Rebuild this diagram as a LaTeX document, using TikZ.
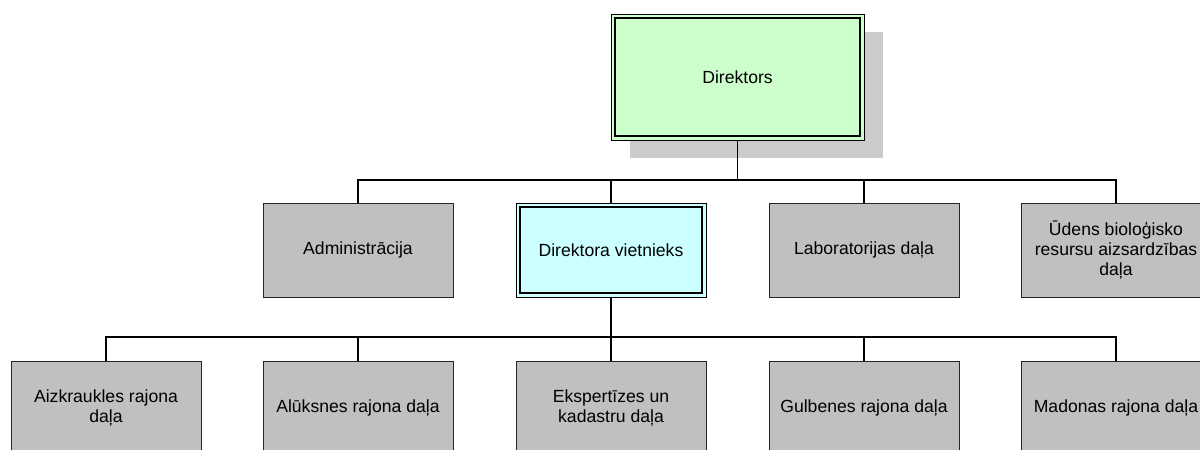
\documentclass[tikz,border=0pt]{standalone}
\usepackage{fontspec}
\setmainfont{Liberation Sans}
\usetikzlibrary{backgrounds}
\definecolor{dirgreen}{HTML}{CCFFCC}
\definecolor{depcyan}{HTML}{CCFFFF}
\definecolor{boxgray}{HTML}{C0C0C0}
\definecolor{shadowgray}{HTML}{CCCCCC}
\begin{document}
\begin{tikzpicture}[x=1pt,y=-1pt,
  every node/.style={font=\fontsize{17.6}{20.3}\selectfont, align=center, inner sep=0pt, outer sep=0pt},
  unitbox/.style={draw=black!85, line width=1pt, fill=boxgray, minimum width=190pt, minimum height=94pt},
  headbox/.style={draw=black, line width=1pt, fill=dirgreen, minimum width=253pt, minimum height=126pt},
  innerline/.style={draw=black, line width=1.4pt},
  link/.style={draw=black, line width=1.1pt},
  trunk/.style={draw=black, line width=1.4pt}]
\useasboundingbox (0,0) rectangle (1200,450);
\clip (0,0) rectangle (1200,450);
% head
\node[headbox] (dir) at (737.5,77) {Direktors};
\draw[innerline] ([shift={(4,4)}]dir.north west) rectangle ([shift={(-4,-4)}]dir.south east);
\begin{scope}[on background layer]
  \fill[shadowgray] ([shift={(19,18)}]dir.north west) rectangle ([shift={(19,18)}]dir.south east);
\end{scope}
% middle row
\node[unitbox] (adm) at (358,250) {Administrācija};
\node[unitbox, fill=depcyan, draw=black] (dep) at (611,250) {Direktora vietnieks};
\draw[innerline] ([shift={(4,4)}]dep.north west) rectangle ([shift={(-4,-4)}]dep.south east);
\node[unitbox] (lab) at (864,250) {Laboratorijas daļa};
\node[unitbox] (ude) at (1116,250) {Ūdens bioloģisko\\resursu aizsardzības\\daļa};
% bottom row
\node[unitbox] (aiz) at (106,408) {Aizkraukles rajona\\daļa};
\node[unitbox] (alu) at (358,408) {Alūksnes rajona daļa};
\node[unitbox] (eks) at (611,408) {Ekspertīzes un\\kadastru daļa};
\node[unitbox] (gul) at (864,408) {Gulbenes rajona daļa};
\node[unitbox] (mad) at (1116,408) {Madonas rajona daļa};
% connectors
\draw[trunk] (dir.south) -- ++(0,40) coordinate (busA);
\foreach \c in {adm,dep,lab,ude} \draw[link] (busA) -| (\c.north);
\draw[trunk] (dep.south) -- ++(0,40) coordinate (busB);
\foreach \c in {aiz,alu,eks,gul,mad} \draw[link] (busB) -| (\c.north);
\end{tikzpicture}
\end{document}
